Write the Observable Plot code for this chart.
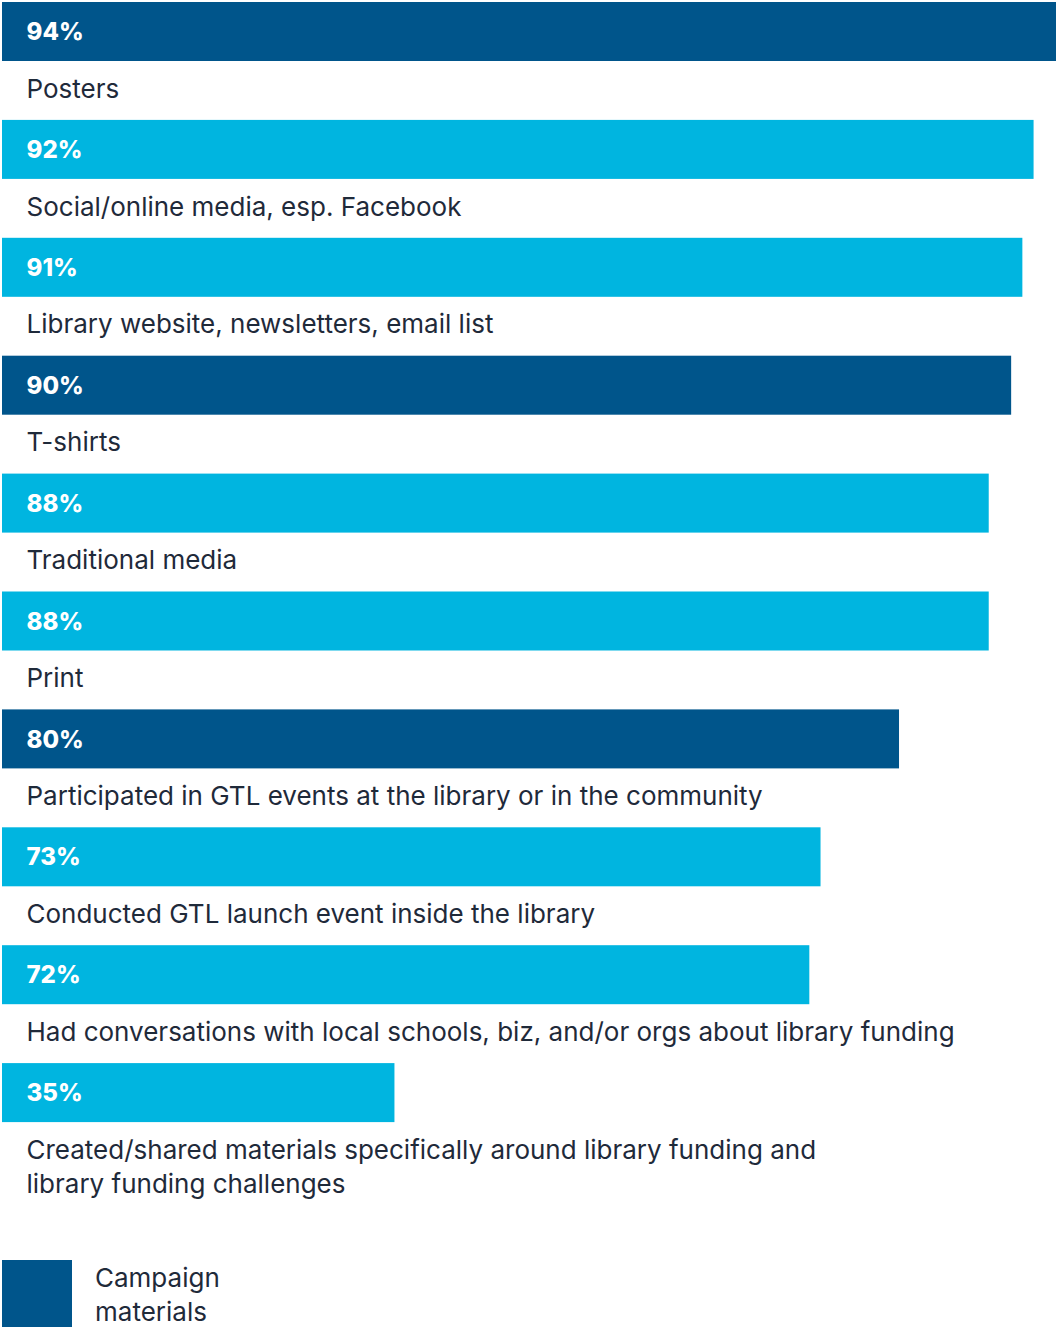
<!DOCTYPE html>
<html>
<head>
<meta charset="utf-8">
<script src="https://cdn.jsdelivr.net/npm/d3@7"></script>
<script src="https://cdn.jsdelivr.net/npm/@observablehq/plot@0.6"></script>
<style>
  html, body { margin: 0; padding: 0; background: #fff; }
  body { width: 1056px; overflow: hidden; font-family: Inter, "Noto Sans", sans-serif; }
  #legend { display: flex; align-items: flex-start; margin-top: 10px; padding-left: 2px; }
  .sw { width: 70px; height: 70px; flex: none; }
  .lt { margin-left: 23px; font-size: 26px; line-height: 34px; color: #1f2a3a; margin-top: 1px; }
</style>
</head>
<body>
<div id="chart"></div>
<div id="legend"></div>
<script>
const categories = [
  "Posters",
  "Social/online media, esp. Facebook",
  "Library website, newsletters, email list",
  "T-shirts",
  "Traditional media",
  "Print",
  "Participated in GTL events at the library or in the community",
  "Conducted GTL launch event inside the library",
  "Had conversations with local schools, biz, and/or orgs about library funding",
  "Created/shared materials specifically around library funding and\nlibrary funding challenges"
];
const values = [94, 92, 91, 90, 88, 88, 80, 73, 72, 35];
const groups = ["Campaign materials", "Other", "Other", "Campaign materials", "Other", "Other", "Campaign materials", "Other", "Other", "Other"];
const groupNames = ["Campaign materials", "Other"];
const groupColors = ["#00558b", "#00b5e0"];

const data = categories.map((c, i) => ({category: c, value: values[i], group: groups[i]}));

const step = 117.9;
const H = 1250;
const chart = Plot.plot({
  width: 1056,
  height: H,
  marginTop: 2,
  marginLeft: 2,
  marginRight: 0,
  marginBottom: H - 2 - step * categories.length,
  x: {domain: [0, 94], axis: null},
  y: {domain: categories, axis: null, padding: 0, round: false},
  color: {domain: groupNames, range: groupColors},
  style: {fontFamily: "Inter, 'Noto Sans', sans-serif", background: "#fff"},
  marks: [
    Plot.barX(data, {x: "value", y: "category", fill: "group", insetBottom: step - 59}),
    Plot.text(data, {x: 0, y: "category", text: d => d.value + "%", textAnchor: "start", dx: 24, dy: -29,
      fill: "#fff", fontSize: 24, fontWeight: 800, lineAnchor: "middle"}),
    Plot.text(data, {x: 0, y: "category", text: "category", textAnchor: "start", dx: 24, dy: 12,
      fill: "#1f2a3a", fontSize: 26, lineAnchor: "top", lineHeight: 1.31})
  ]
});
document.getElementById("chart").appendChild(chart);

const legend = document.getElementById("legend");
const sw = document.createElement("div");
sw.className = "sw";
sw.style.background = groupColors[0];
const lt = document.createElement("div");
lt.className = "lt";
lt.innerHTML = "Campaign<br>materials";
legend.appendChild(sw);
legend.appendChild(lt);
</script>
</body>
</html>
